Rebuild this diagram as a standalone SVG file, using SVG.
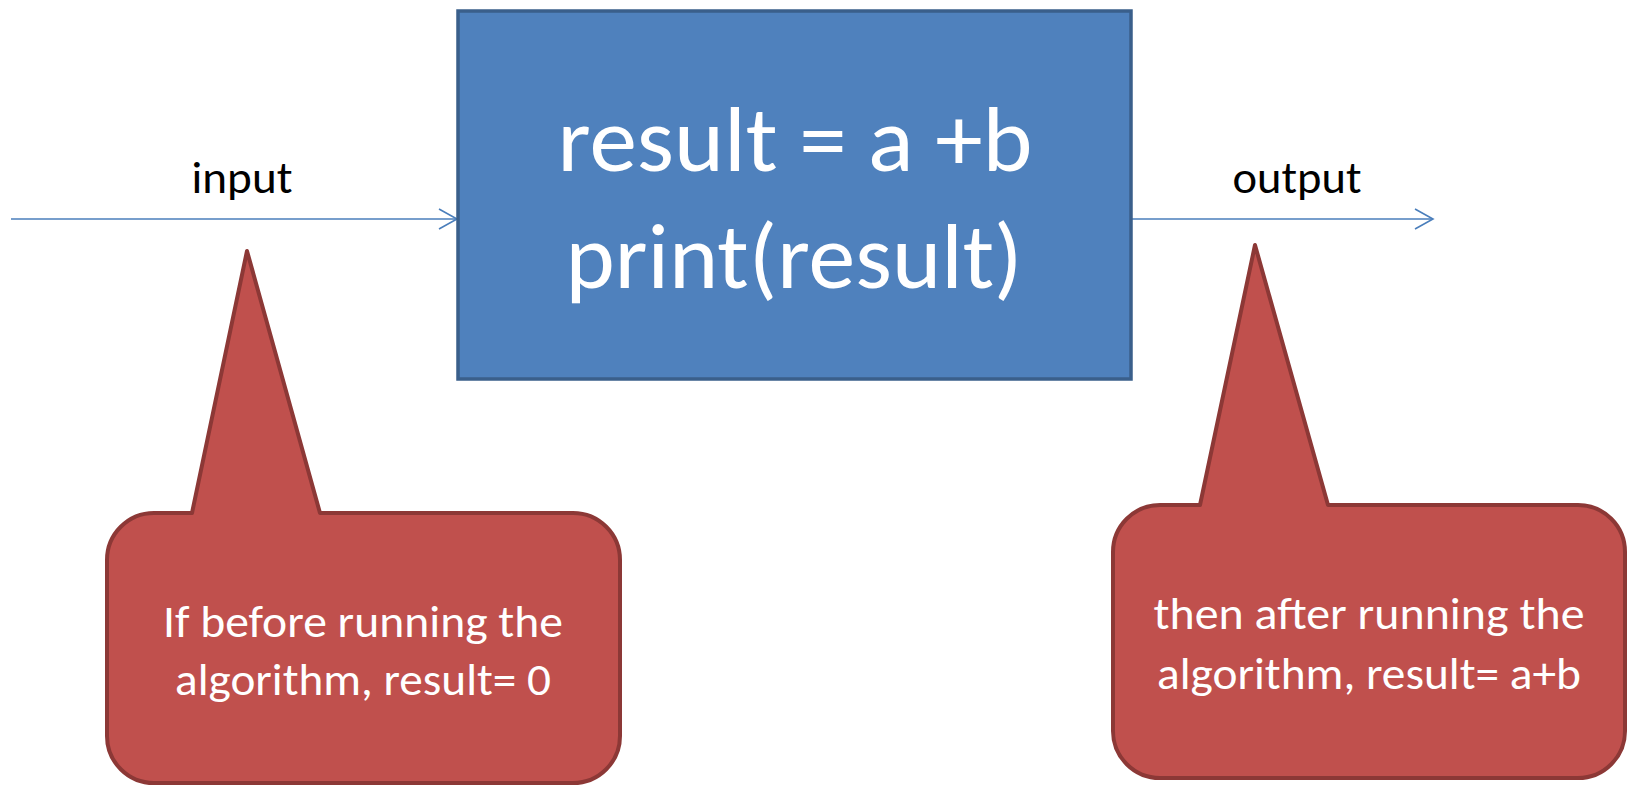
<svg xmlns="http://www.w3.org/2000/svg" width="1627" height="785" viewBox="0 0 1627 785">
  <style>
    .label { font-family: Carlito, Calibri, Lato, "Liberation Sans", sans-serif; font-size: 46px; fill: #000000; text-anchor: middle; }
    .code { font-family: Carlito, Calibri, Lato, "Liberation Sans", sans-serif; font-size: 92px; fill: #FFFFFF; text-anchor: middle; }
    .note { font-family: Carlito, Calibri, Lato, "Liberation Sans", sans-serif; font-size: 45px; fill: #FFFFFF; text-anchor: middle; }
    .flow { stroke: #4A7EBB; stroke-width: 1.6; fill: none; }
    .block { fill: #4F81BD; stroke: #3A5F8B; stroke-width: 3.5; }
    .callout { fill: #C0504D; stroke: #8C3836; stroke-width: 4; stroke-linejoin: round; }
  </style>
  <defs>
    <marker id="open-arrow" markerUnits="userSpaceOnUse" markerWidth="24" markerHeight="24" refX="19" refY="11" orient="auto">
      <path d="M1,1 L19,11 L1,21" fill="none" stroke="#4A7EBB" stroke-width="1.6"/>
    </marker>
  </defs>

  <!-- connectors -->
  <g id="connectors">
    <line class="flow" x1="11" y1="219" x2="457" y2="219" marker-end="url(#open-arrow)"/>
    <line class="flow" x1="1131" y1="219" x2="1433" y2="219" marker-end="url(#open-arrow)"/>
    <text class="label" x="242" y="193" textLength="101" lengthAdjust="spacingAndGlyphs">input</text>
    <text class="label" x="1297" y="193" textLength="129" lengthAdjust="spacingAndGlyphs">output</text>
  </g>

  <!-- algorithm block -->
  <g id="algorithm">
    <rect class="block" x="458" y="11" width="673" height="368"/>
    <text class="code" x="795" y="171" textLength="475" lengthAdjust="spacingAndGlyphs">result = a +b</text>
    <text class="code" x="794" y="288" textLength="457" lengthAdjust="spacingAndGlyphs">print(result)</text>
  </g>

  <!-- note on the input side -->
  <g id="note-before">
    <path class="callout" d="M154,513 L192,513 L247,251 L320,513 L573,513 A47,47 0 0 1 620,560 L620,736 A47,47 0 0 1 573,783 L154,783 A47,47 0 0 1 107,736 L107,560 A47,47 0 0 1 154,513 Z"/>
    <text class="note" x="363" y="637" textLength="400" lengthAdjust="spacingAndGlyphs">If before running the</text>
    <text class="note" x="363" y="695" textLength="376" lengthAdjust="spacingAndGlyphs">algorithm, result= 0</text>
  </g>

  <!-- note on the output side -->
  <g id="note-after">
    <path class="callout" d="M1160,505 L1200,505 L1255,245 L1328,505 L1578,505 A47,47 0 0 1 1625,552 L1625,731 A47,47 0 0 1 1578,778 L1160,778 A47,47 0 0 1 1113,731 L1113,552 A47,47 0 0 1 1160,505 Z"/>
    <text class="note" x="1369" y="629" textLength="431" lengthAdjust="spacingAndGlyphs">then after running the</text>
    <text class="note" x="1369" y="689" textLength="424" lengthAdjust="spacingAndGlyphs">algorithm, result= a+b</text>
  </g>
</svg>
